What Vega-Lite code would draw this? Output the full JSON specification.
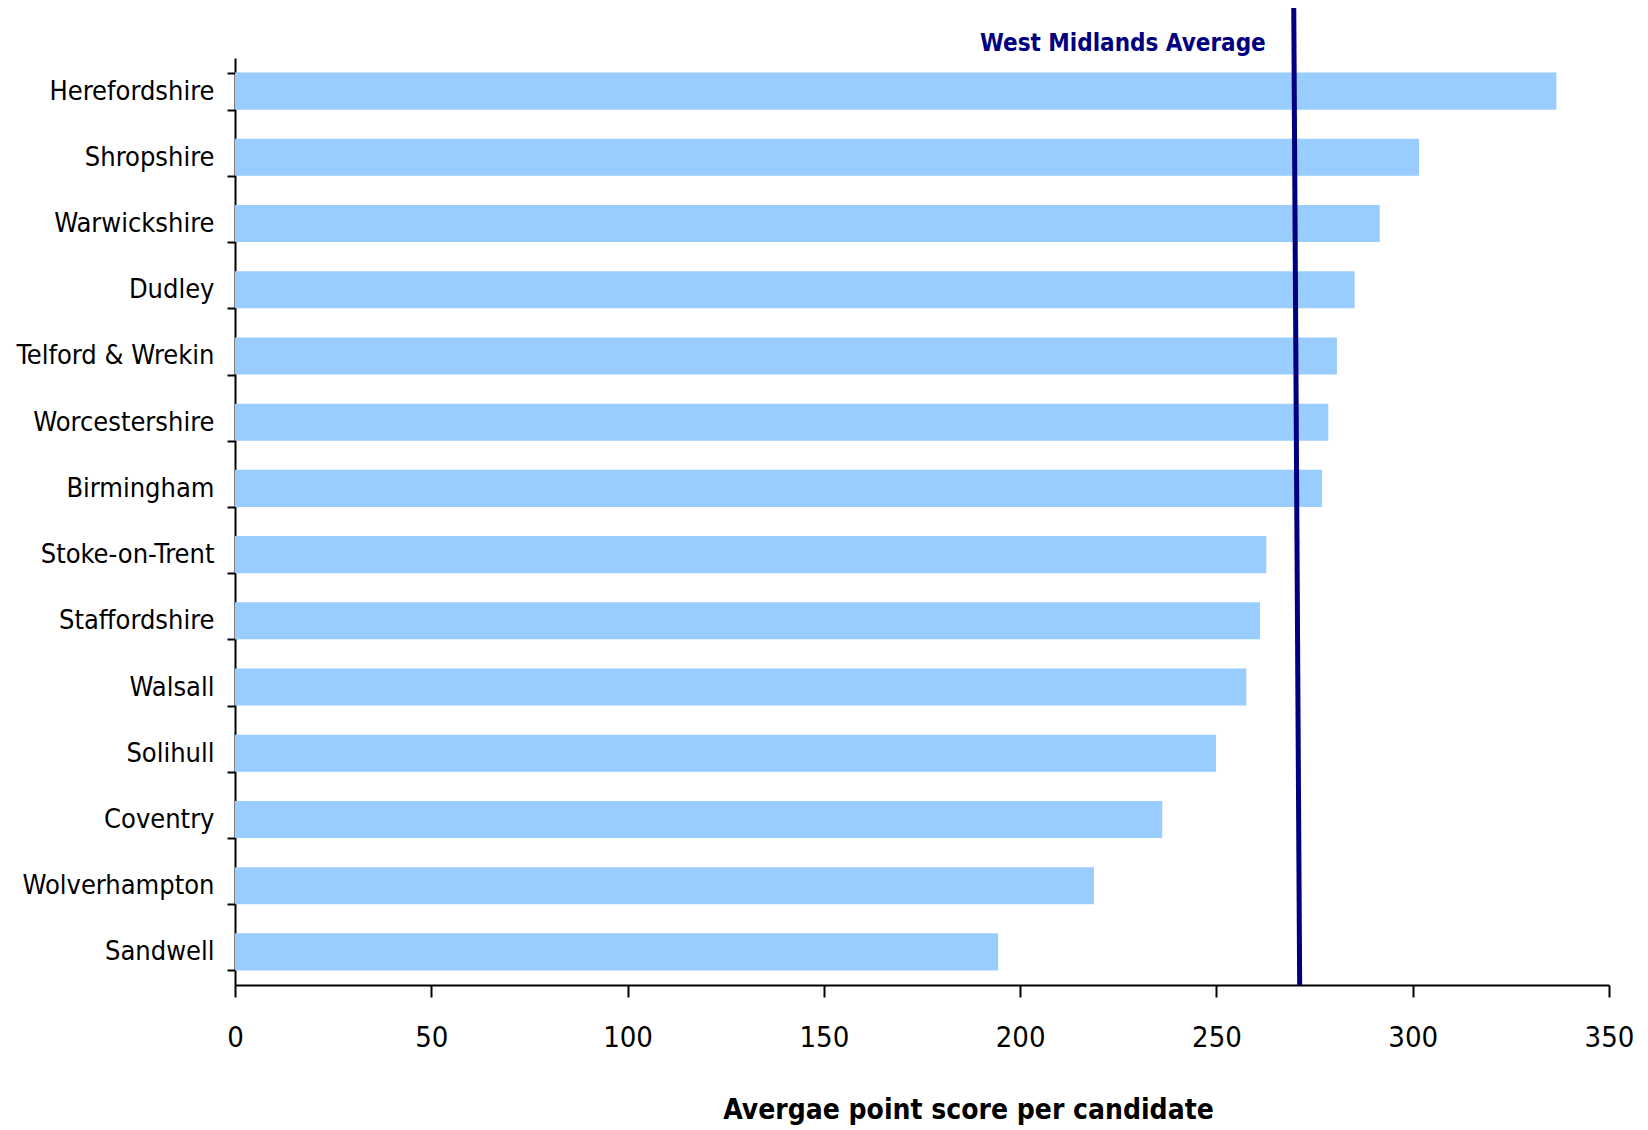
{
  "$schema": "https://vega.github.io/schema/vega-lite/v6.json",
  "width": 1374,
  "height": 927,
  "autosize": "none",
  "padding": {"left": 235, "top": 58, "right": 39, "bottom": 145},
  "background": "white",
  "config": {"view": {"stroke": null}},
  "layer": [
    {
      "data": {"values": [
        {"authority": "Herefordshire", "score": 336.6},
        {"authority": "Shropshire", "score": 301.6},
        {"authority": "Warwickshire", "score": 291.6},
        {"authority": "Dudley", "score": 285.2},
        {"authority": "Telford & Wrekin", "score": 280.7},
        {"authority": "Worcestershire", "score": 278.5},
        {"authority": "Birmingham", "score": 276.9},
        {"authority": "Stoke-on-Trent", "score": 262.7},
        {"authority": "Staffordshire", "score": 261.1},
        {"authority": "Walsall", "score": 257.6},
        {"authority": "Solihull", "score": 249.9},
        {"authority": "Coventry", "score": 236.2},
        {"authority": "Wolverhampton", "score": 218.8},
        {"authority": "Sandwell", "score": 194.4}
      ]},
      "mark": {"type": "bar", "color": "#99CCFF"},
      "encoding": {
        "y": {
          "field": "authority", "type": "nominal", "sort": null,
          "scale": {"paddingInner": 0.44, "paddingOuter": 0.22},
          "axis": {
            "title": null, "domainColor": "black", "domainWidth": 2,
            "tickColor": "black", "tickWidth": 2, "tickSize": 8, "tickBand": "extent",
            "labelFont": "DejaVu Sans Condensed", "labelFontSize": 27, "labelColor": "black",
            "labelPadding": 13, "labelLimit": 400
          }
        },
        "x": {
          "field": "score", "type": "quantitative",
          "scale": {"domain": [0, 350], "nice": false},
          "axis": {
            "title": "Avergae point score per candidate",
            "values": [0, 50, 100, 150, 200, 250, 300, 350],
            "grid": false, "domainColor": "black", "domainWidth": 2,
            "tickColor": "black", "tickWidth": 2, "tickSize": 12,
            "labelFont": "DejaVu Sans Condensed",
            "labelFontSize": 29, "labelColor": "black", "labelPadding": 26,
            "labelFlush": false, "labelOverlap": false,
            "titleFont": "DejaVu Sans Condensed",
            "titleFontSize": 28, "titleFontWeight": "bold", "titleColor": "black",
            "titleX": 733, "titleY": 133, "titleBaseline": "alphabetic", "titleAlign": "center"
          }
        }
      }
    },
    {
      "data": {"values": [{"bottom_x": 271.2, "top_x": 269.7, "y0": 0, "y1": 1.054}]},
      "mark": {"type": "rule", "color": "#000080", "strokeWidth": 5, "clip": false},
      "encoding": {
        "x": {"field": "bottom_x", "type": "quantitative"},
        "x2": {"field": "top_x"},
        "y": {"field": "y0", "type": "quantitative", "scale": {"domain": [0, 1], "nice": false, "zero": false}, "axis": null},
        "y2": {"field": "y1"}
      }
    },
    {
      "data": {"values": [{"label": "West Midlands Average", "x": 269.7, "y": 1.008}]},
      "mark": {"type": "text", "color": "#000080", "font": "DejaVu Sans Condensed", "fontSize": 24, "fontWeight": "bold", "align": "right", "baseline": "alphabetic", "dx": -28, "clip": false},
      "encoding": {
        "x": {"field": "x", "type": "quantitative"},
        "y": {"field": "y", "type": "quantitative", "scale": {"domain": [0, 1], "nice": false, "zero": false}, "axis": null},
        "text": {"field": "label"}
      }
    }
  ],
  "resolve": {"scale": {"y": "independent"}}
}
